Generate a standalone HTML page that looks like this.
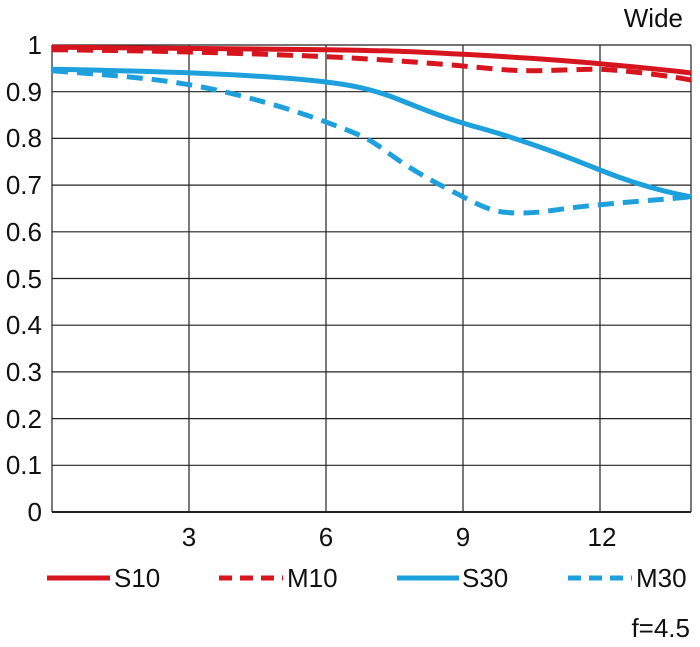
<!DOCTYPE html><html><head><style>body{margin:0;background:#fff}svg{display:block}text{font-family:"Liberation Sans",sans-serif;font-size:26px;fill:#111}</style></head><body>
<svg width="700" height="647" viewBox="0 0 700 647">
<g stroke="#222" stroke-width="1.2">
<line x1="52" y1="45" x2="691" y2="45"/><line x1="52" y1="91.7" x2="691" y2="91.7"/><line x1="52" y1="138.4" x2="691" y2="138.4"/><line x1="52" y1="185.1" x2="691" y2="185.1"/><line x1="52" y1="231.8" x2="691" y2="231.8"/><line x1="52" y1="278.5" x2="691" y2="278.5"/><line x1="52" y1="325.2" x2="691" y2="325.2"/><line x1="52" y1="371.9" x2="691" y2="371.9"/><line x1="52" y1="418.6" x2="691" y2="418.6"/><line x1="52" y1="465.3" x2="691" y2="465.3"/>
<line x1="52" y1="45" x2="52" y2="512"/><line x1="189" y1="45" x2="189" y2="512"/><line x1="326" y1="45" x2="326" y2="512"/><line x1="463" y1="45" x2="463" y2="512"/><line x1="600" y1="45" x2="600" y2="512"/><line x1="691" y1="45" x2="691" y2="512"/>
</g>
<line x1="52" y1="512" x2="691" y2="512" stroke="#222" stroke-width="2"/>
<g fill="none" stroke-width="5" stroke-linejoin="round">
<path d="M52,47.3 C150,47.5 250,48.5 326,49.7 S420,52 463,54.3 S560,60 600,63.7 S670,70 691,73" stroke="#d7151f"/>
<path d="M52,49.7 C120,50.5 150,51 189,52 S290,55 326,56.7 S420,62 463,66 S510,70.7 531,70.7 S580,69 600,69.3 S670,76 691,80" stroke="#d7151f" stroke-dasharray="16,9"/>
<path d="M52,69.3 C150,71 260,74 326,82 C360,86 380,92 400,100 C430,112 450,120 480,128 C530,142 570,158 600,170 C640,186 670,193 691,196.8" stroke="#1ea0dc"/>
<path d="M52,70.7 C120,76 150,78 189,84.7 S280,105 326,122 S370,140 394,157 S440,185 463,196.8 S495,213 520,213 S554,209 600,204.7 S670,199 691,196.8" stroke="#1ea0dc" stroke-dasharray="16,9"/>
</g>
<g text-anchor="end">
<text x="42" y="54">1</text><text x="42" y="101">0.9</text><text x="42" y="147">0.8</text><text x="42" y="194">0.7</text><text x="42" y="241">0.6</text><text x="42" y="288">0.5</text><text x="42" y="334">0.4</text><text x="42" y="381">0.3</text><text x="42" y="428">0.2</text><text x="42" y="474">0.1</text><text x="42" y="521">0</text>
<text x="683" y="27">Wide</text><text x="690" y="637">f=4.5</text>
</g>
<g text-anchor="middle"><text x="189" y="546">3</text><text x="326" y="546">6</text><text x="463" y="546">9</text><text x="602" y="546">12</text></g>
<g stroke-width="5"><line x1="47" y1="578" x2="110" y2="578" stroke="#d7151f"/><line x1="219" y1="578" x2="283" y2="578" stroke="#d7151f" stroke-dasharray="13,8"/><line x1="397" y1="578" x2="459" y2="578" stroke="#1ea0dc"/><line x1="568" y1="578" x2="632" y2="578" stroke="#1ea0dc" stroke-dasharray="13,8"/></g>
<text x="114" y="587">S10</text><text x="287" y="587">M10</text><text x="462" y="587">S30</text><text x="636" y="587">M30</text>
</svg></body></html>
